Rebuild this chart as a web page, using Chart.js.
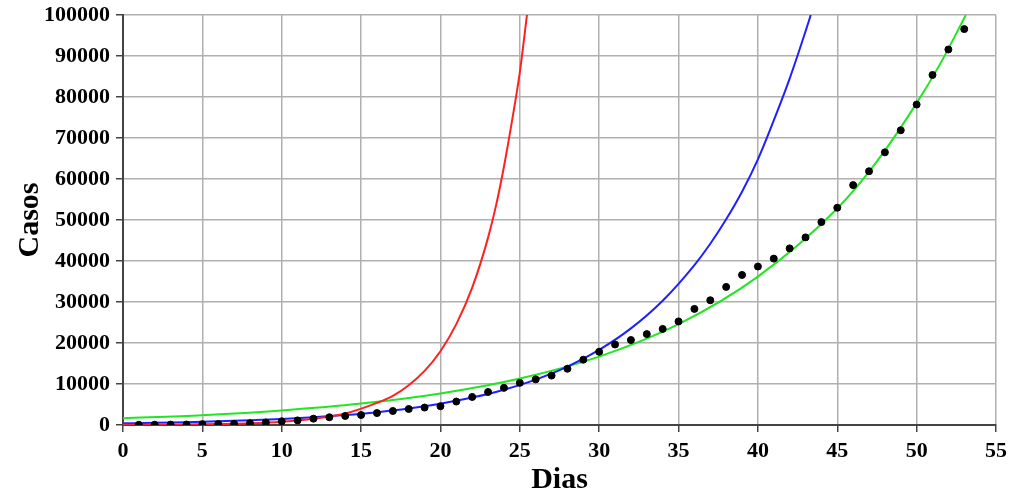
<!DOCTYPE html>
<html>
<head>
<meta charset="utf-8">
<script src="https://cdn.jsdelivr.net/npm/chart.js@4"></script>
<style>
  html, body { margin: 0; padding: 0; background: #fff; }
  #wrap { width: 1011px; height: 498px; }
</style>
</head>
<body>
<div id="wrap"><canvas id="chart" width="1011" height="498"></canvas></div>
<script>
// casos confirmados, um ponto por dia (dia 1..53)
const casos = [52, 77, 98, 121, 200, 234, 291, 428, 621, 904, 1128, 1546, 1891, 2201, 2433,
  2915, 3417, 3904, 4256, 4579, 5717, 6836, 8044, 9056, 10278, 11130, 12056, 13717, 15927,
  17857, 19638, 20727, 22169, 23430, 25262, 28320, 30425, 33682, 36599, 38654, 40581, 43079,
  45757, 49492, 52995, 58509, 61888, 66501, 71886, 78162, 85380, 91589, 96559];

// curvas ajustadas
const redDays = [0, 2, 4, 6, 8, 10, 12, 14, 16, 17, 18, 19, 20, 21, 22, 23, 23.5, 24, 24.5, 25, 25.45];
const redVals = [37, 68, 126, 235, 436, 811, 1510, 2800, 5400, 7100, 9700, 13200, 18000, 24600,
  33500, 45700, 53500, 63000, 74000, 86000, 100000];

const blueDays = [0, 2, 4, 6, 8, 10, 12, 14, 16, 18, 20, 22, 24, 26, 28, 30, 32, 34, 36, 37, 38, 39,
  40, 41, 42, 43, 43.33];
const blueVals = [418, 538, 692, 890, 1145, 1474, 1896, 2440, 3138, 4038, 5198, 6687, 8600, 11065,
  14235, 18330, 23560, 30310, 39000, 44200, 50170, 56900, 64800, 74300, 84500, 96000, 100000];

const greenDays = [0, 5, 10, 15, 20, 25, 30, 35, 40, 45, 47.5, 50, 51.5, 53.1];
const greenVals = [1630, 2400, 3550, 5220, 7690, 11330, 16690, 24600, 36200, 52800, 64300, 78500,
  88200, 100000];

const xTicks = [0, 5, 10, 15, 20, 25, 30, 35, 40, 45, 50, 55];
const yTicks = [0, 10000, 20000, 30000, 40000, 50000, 60000, 70000, 80000, 90000, 100000];

const toPoints = (xs, ys) => xs.map((x, i) => ({ x, y: ys[i] }));

function curve(xs, ys, color, order) {
  return {
    data: toPoints(xs, ys),
    showLine: true,
    borderColor: color,
    borderWidth: 2,
    pointRadius: 0,
    cubicInterpolationMode: 'monotone',
    order
  };
}

const serif = '"Liberation Serif", "Times New Roman", serif';
const titleFont = { family: serif, size: 30, weight: 'bold' };

new Chart(document.getElementById('chart'), {
  type: 'scatter',
  data: {
    datasets: [
      {
        data: casos.map((c, i) => ({ x: i + 1, y: c })),
        backgroundColor: '#000',
        borderColor: '#000',
        pointRadius: 3.5,
        order: 0
      },
      curve(redDays, redVals, '#ff2020', 1),
      curve(blueDays, blueVals, '#2020ff', 2),
      curve(greenDays, greenVals, '#22e622', 3)
    ]
  },
  options: {
    responsive: false,
    animation: false,
    layout: { padding: { top: 15, right: 15, left: 0, bottom: 0 } },
    plugins: { legend: { display: false }, tooltip: { enabled: false } },
    scales: {
      x: {
        type: 'linear',
        min: 0,
        max: 55,
        afterBuildTicks: (scale) => { scale.ticks = xTicks.map((v) => ({ value: v })); },
        afterFit: (scale) => { scale.height = 73; },
        grid: { color: '#b0b0b0', lineWidth: 1.5, tickColor: '#444', tickLength: 7 },
        border: { color: '#444', width: 2 },
        ticks: { color: '#000', font: { family: serif, size: 22, weight: 'bold', lineHeight: 1.75 }, padding: 0, maxRotation: 0 },
        title: { display: true, text: 'Dias', color: '#000', font: titleFont, padding: { top: 3, bottom: 0 } }
      },
      y: {
        type: 'linear',
        min: 0,
        max: 100000,
        afterBuildTicks: (scale) => { scale.ticks = yTicks.map((v) => ({ value: v })); },
        afterFit: (scale) => { scale.width = 123; },
        grid: { color: '#b0b0b0', lineWidth: 1.5, tickColor: '#444', tickLength: 7 },
        border: { color: '#444', width: 2 },
        ticks: { color: '#000', font: { family: serif, size: 22, weight: 'bold', lineHeight: 0.6 }, padding: 6, callback: (v) => String(v) },
        title: { display: true, text: 'Casos', color: '#000', font: titleFont, padding: { top: 12, bottom: 0 } }
      }
    }
  }
});
</script>
</body>
</html>
